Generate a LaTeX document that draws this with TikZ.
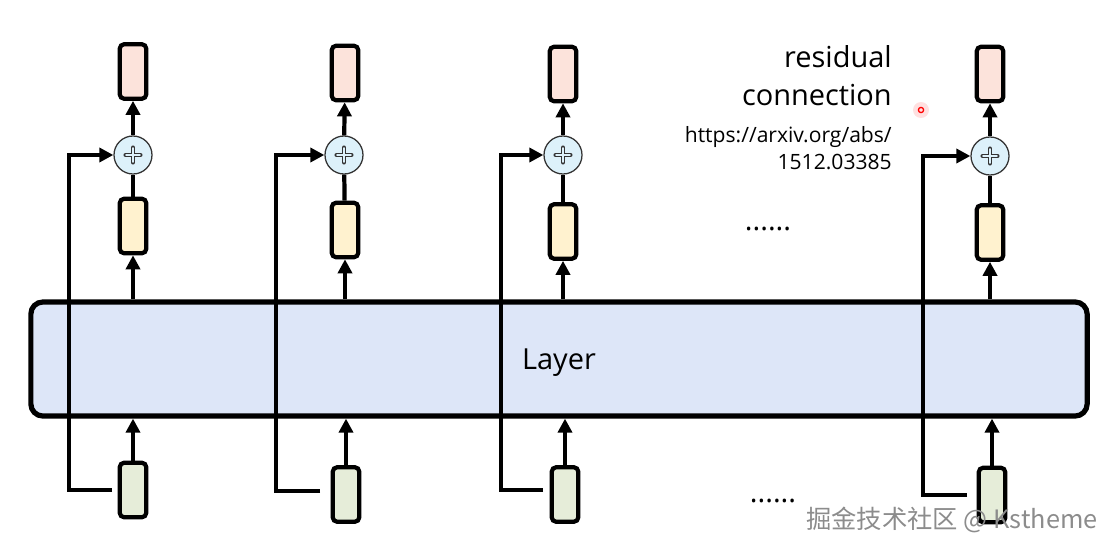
\documentclass[tikz,border=0pt]{standalone}
\usepackage{fontspec}
\setmainfont{Open Sans}
\newfontfamily\cjkfont{Noto Sans CJK SC}
\usetikzlibrary{arrows.meta}
\definecolor{outpink}{HTML}{FCE3DB}
\definecolor{midyellow}{HTML}{FFF2CF}
\definecolor{ingreen}{HTML}{E6EDD9}
\definecolor{layerblue}{HTML}{DDE6F8}
\definecolor{plusblue}{HTML}{DDF1FA}
\begin{document}
\begin{tikzpicture}[x=0.025cm, y=-0.025cm,
  box/.style={draw=black, line width=3pt, rounded corners=3pt, minimum width=0.66cm, minimum height=1.36cm, inner sep=0pt},
  outbox/.style={box, fill=outpink},
  midbox/.style={box, fill=midyellow},
  inbox/.style={box, fill=ingreen},
  plus/.style={circle, draw=black!80, fill=plusblue, line width=0.9pt, minimum size=0.95cm, inner sep=0pt,
    path picture={
      \draw[shift={(path picture bounding box.center)}, line width=2.9pt, black!80, line cap=round] (-7.5,0) -- (7.5,0) (0,-7.5) -- (0,7.5);
      \draw[shift={(path picture bounding box.center)}, line width=1.2pt, plusblue, line cap=round] (-7,0) -- (7,0) (0,-7) -- (0,7);}},
  layerbox/.style={draw=black, line width=3.7pt, rounded corners=8.5pt, fill=layerblue, minimum width=26.4cm, minimum height=2.85cm, text depth=0pt, font=\fontsize{20.6}{24}\selectfont},
  bigtext/.style={inner sep=0pt, font=\fontsize{20.6}{24}\selectfont},
  smalltext/.style={inner sep=0pt, font=\fontsize{15}{18}\selectfont},
  arr/.style={line width=3pt, -{Triangle[length=10pt, width=10pt]}},
  wire/.style={line width=3pt},
  skip/.style={line width=2.9pt, -{Triangle[length=10pt, width=10pt]}}]
\useasboundingbox (0,0) rectangle (1116,552);

\node[layerbox] (layer) at (559,359) {Layer};

\node[outbox] (o1) at (133,71.5) {};
\node[plus] (p1) at (133,155) {};
\node[midbox] (m1) at (133,226) {};
\node[inbox] (i1) at (133,490) {};

\node[outbox] (o2) at (345,73) {};
\node[plus] (p2) at (344,155) {};
\node[midbox] (m2) at (345,230) {};
\node[inbox] (i2) at (346,494.5) {};

\node[outbox] (o3) at (563,74) {};
\node[plus] (p3) at (563,155) {};
\node[midbox] (m3) at (563,231.5) {};
\node[inbox] (i3) at (565,494.5) {};

\node[outbox] (o4) at (990,74) {};
\node[plus] (p4) at (990,156) {};
\node[midbox] (m4) at (990,232.5) {};
\node[inbox] (i4) at (992,495) {};

\draw[arr] (i1) -- (i1 |- layer.south);
\draw[arr] (m1 |- layer.north) -- (m1);
\draw[wire] (m1) -- (p1);
\draw[arr] (p1) -- (o1);
\coordinate (s1) at (112,490);
\coordinate (c1) at (69,490);
\draw[skip] (s1) -- (c1) |- (p1);

\draw[arr] (i2) -- (i2 |- layer.south);
\draw[arr] (m2 |- layer.north) -- (m2);
\draw[wire] (m2) -- (p2);
\draw[arr] (p2) -- (o2);
\coordinate (s2) at (320,491);
\coordinate (c2) at (276,491);
\draw[skip] (s2) -- (c2) |- (p2);

\draw[arr] (i3) -- (i3 |- layer.south);
\draw[arr] (m3 |- layer.north) -- (m3);
\draw[wire] (m3) -- (p3);
\draw[arr] (p3) -- (o3);
\coordinate (s3) at (543,490);
\coordinate (c3) at (501,490);
\draw[skip] (s3) -- (c3) |- (p3);

\draw[arr] (i4) -- (i4 |- layer.south);
\draw[arr] (m4 |- layer.north) -- (m4);
\draw[wire] (m4) -- (p4);
\draw[arr] (p4) -- (o4);
\coordinate (s4) at (967,495);
\coordinate (c4) at (923,495);
\draw[skip] (s4) -- (c4) |- (p4);

\node[bigtext, anchor=base east] (title1) at (892,67) {residual};
\node[bigtext, anchor=base east] (title2) at (892,105) {connection};
\node[smalltext, anchor=base east] (link1) at (892,142) {https://arxiv.org/abs/};
\node[smalltext, anchor=base east] (link2) at (892,169) {1512.03385};

\node[bigtext, anchor=base] (dotsup) at (768,230) {......};
\node[bigtext, anchor=base] (dotsdown) at (773,502) {......};

\node[circle, fill=red!12, inner sep=0pt, minimum size=0.4cm] (glow) at (921,110) {};
\node[circle, draw=red, line width=0.9pt, inner sep=0pt, minimum size=0.13cm] (pointer) at (921,110) {};

\node[anchor=west, inner sep=0pt, text=black!45, font=\cjkfont\fontsize{18}{20}\selectfont] (mark) at (806,520) {掘金技术社区 @ Kstheme};
\end{tikzpicture}
\end{document}
